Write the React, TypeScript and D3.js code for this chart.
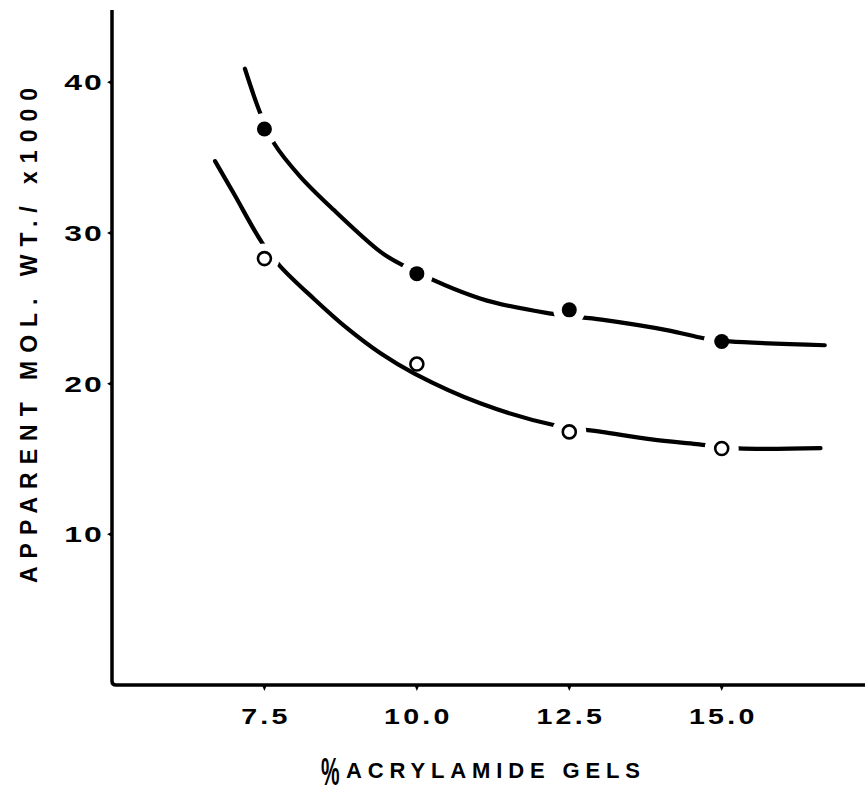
import React from 'react';
import * as d3 from 'd3';

// % acrylamide in the gel
const gelPercent = [7.5, 10.0, 12.5, 15.0];
// apparent mol. wt. (x1000), filled and open symbols
const filledMW = [36.9, 27.3, 24.9, 22.8];
const openMW = [28.3, 21.3, 16.8, 15.7];

// hand-drawn fitted curves as [gel %, mol. wt.]
const upperCurve: [number, number][] = [
  [7.18, 40.9], [7.43, 37.97], [7.66, 35.94], [8.09, 33.73], [8.64, 31.52], [9.41, 28.73],
  [9.75, 27.9], [11.05, 25.64], [12.2, 24.65], [13.03, 24.25], [14.12, 23.54], [14.72, 23.0],
  [15.13, 22.81], [16.69, 22.55],
];
const lowerCurve: [number, number][] = [
  [6.69, 34.77], [7.0, 32.6], [7.46, 29.36], [7.76, 27.79], [8.31, 25.64], [8.85, 23.7],
  [9.41, 22.0], [9.96, 20.67], [11.05, 18.68], [12.26, 17.24], [13.03, 16.8], [13.85, 16.3],
  [14.59, 15.99], [15.27, 15.7], [16.62, 15.72],
];

const xTicks = [7.5, 10.0, 12.5, 15.0];
const yTicks = [10, 20, 30, 40];

const W = 865;
const H = 794;

export default function App() {
  const x = d3.scaleLinear().domain([5, 17.35]).range([112, 865]);
  const y = d3.scaleLinear().domain([0, 44.8]).range([685, 10]);

  const line = d3
    .line<[number, number]>()
    .x((d) => x(d[0]))
    .y((d) => y(d[1]))
    .curve(d3.curveCatmullRom.alpha(0.5));

  const font = '"Liberation Sans", Arial, sans-serif';

  return (
    <svg width={W} height={H} style={{ position: 'absolute', left: 0, top: 0, background: '#fff' }}>
      <rect width={W} height={H} fill="#fff" />

      {/* curves */}
      <path d={line(upperCurve) || ''} fill="none" stroke="#000" strokeWidth={4.2} strokeLinecap="round" />
      <path d={line(lowerCurve) || ''} fill="none" stroke="#000" strokeWidth={4.2} strokeLinecap="round" />

      {/* gaps in the drawn line around the symbols */}
      {gelPercent.map((g, i) => (
        <circle
          key={'gu' + i}
          cx={x(g) - (i === 3 ? 7 : 0)}
          cy={y(filledMW[i])}
          r={i === 3 ? 11 : 16}
          fill="#fff"
        />
      ))}
      {gelPercent.map((g, i) =>
        i === 1 ? null : (
          <circle key={'gl' + i} cx={x(g)} cy={y(openMW[i])} r={i === 0 ? 15 : 17} fill="#fff" />
        )
      )}

      {/* symbols */}
      {gelPercent.map((g, i) => (
        <circle key={'f' + i} cx={x(g)} cy={y(filledMW[i])} r={7.5} fill="#000" />
      ))}
      {gelPercent.map((g, i) => (
        <circle key={'o' + i} cx={x(g)} cy={y(openMW[i])} r={6.5} fill="#fff" stroke="#000" strokeWidth={2.6} />
      ))}

      {/* axes */}
      <path
        d={`M${x(5)},${y(44.8)}V${y(0) - 4}Q${x(5)},${y(0)} ${x(5) + 4},${y(0)}H${x(17.35)}`}
        fill="none"
        stroke="#000"
        strokeWidth={3.5}
      />
      {xTicks.map((t) => (
        <g key={'xt' + t}>
          <path d={`M${x(t) - 2.5},${y(0)}L${x(t)},${y(0) + 6}L${x(t) + 2.5},${y(0)}Z`} fill="#000" />
          <text
            transform={`translate(${x(t) + 1.5},724) scale(1.3,1)`}
            textAnchor="middle"
            fontFamily={font}
            fontWeight="bold"
            fontSize={22}
            letterSpacing={2.5}
          >
            {t.toFixed(1)}
          </text>
        </g>
      ))}
      {yTicks.map((t) => (
        <g key={'yt' + t}>
          <path d={`M${x(5)},${y(t) - 2.5}L${x(5) - 5},${y(t)}L${x(5)},${y(t) + 2.5}Z`} fill="#000" />
          <text
            transform={`translate(104,${y(t) + 8}) scale(1.45,1)`}
            textAnchor="end"
            fontFamily={font}
            fontWeight="bold"
            fontSize={22}
            letterSpacing={1.5}
          >
            {t}
          </text>
        </g>
      ))}

      {/* axis titles */}
      <text
        transform={`translate(37, 583) rotate(-90)`}
        fontFamily={font}
        fontWeight="bold"
        fontSize={23}
        textLength={495}
        lengthAdjust="spacing"
      >
        APPARENT MOL. WT./ x1000
      </text>
      <text
        transform="translate(321,785) scale(0.72,1.32)"
        fontFamily={font}
        fontWeight="bold"
        fontSize={29}
      >
        %
      </text>
      <text
        x={346}
        y={778}
        fontFamily={font}
        fontWeight="bold"
        fontSize={22}
        textLength={294}
        lengthAdjust="spacing"
      >
        ACRYLAMIDE GELS
      </text>
    </svg>
  );
}
